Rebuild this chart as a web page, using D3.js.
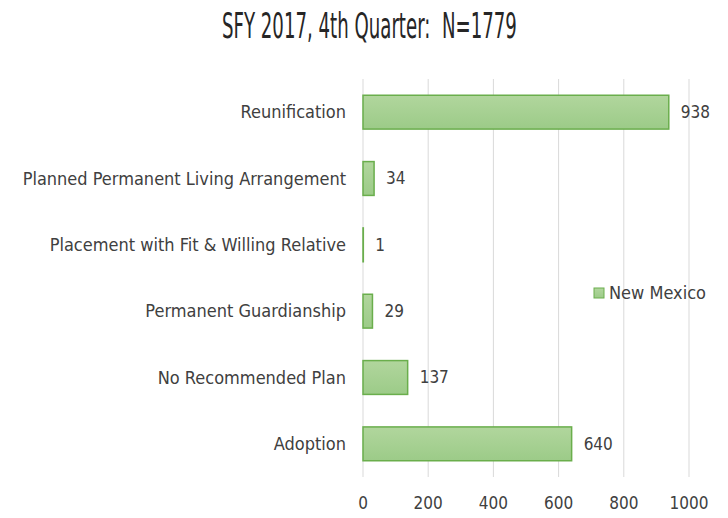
<!DOCTYPE html>
<html>
<head>
<meta charset="utf-8">
<script src="https://cdn.jsdelivr.net/npm/d3@7"></script>
<style>
  body { margin: 0; background: #fff; }
  svg { display: block; }
</style>
</head>
<body>
<div id="chart"></div>
<script>
const categories = ["Reunification", "Planned Permanent Living Arrangement", "Placement with Fit & Willing Relative",
  "Permanent Guardianship", "No Recommended Plan", "Adoption"]
const values = [938, 34, 1, 29, 137, 640]
const xTicks = [0, 200, 400, 600, 800, 1000]
const seriesName = "New Mexico"
const title = "SFY 2017, 4th Quarter:  N=1779"

const width = 728, height = 518
const margin = { top: 79, right: 39, bottom: 41, left: 363 }
const font = "'DejaVu Sans Condensed', 'Liberation Sans Narrow', sans-serif"

let svg = d3.select("#chart").append("svg")
    .attr("width", width)
    .attr("height", height)

let defs = svg.append("defs")
let grad = defs.append("linearGradient").attr("id", "barGrad")
    .attr("x1", 0).attr("y1", 0).attr("x2", 0).attr("y2", 1)
grad.append("stop").attr("offset", "0%").attr("stop-color", "#b1d69d")
grad.append("stop").attr("offset", "100%").attr("stop-color", "#9ccb88")

let x = d3.scaleLinear().domain([0, 1000]).range([margin.left, width - margin.right])
let y = d3.scaleBand().domain(categories).range([margin.top, height - margin.bottom])
    .paddingInner(0.49).paddingOuter(0.245)

// gridlines
svg.append("g")
    .selectAll("line")
    .data(xTicks)
    .join("line")
    .attr("x1", d => x(d)).attr("x2", d => x(d))
    .attr("y1", margin.top).attr("y2", height - margin.bottom)
    .attr("stroke", "#d9d9d9")
    .attr("stroke-width", 1)

// tick labels
svg.append("g")
    .selectAll("text")
    .data(xTicks)
    .join("text")
    .attr("x", d => x(d))
    .attr("y", 509)
    .attr("text-anchor", "middle")
    .attr("font-family", font)
    .attr("font-size", 17)
    .attr("fill", "#404040")
    .text(d => d)

// bars
svg.append("g")
    .selectAll("rect")
    .data(values)
    .join("rect")
    .attr("x", x(0))
    .attr("y", (d, i) => y(categories[i]))
    .attr("width", d => x(d) - x(0))
    .attr("height", y.bandwidth())
    .attr("fill", "url(#barGrad)")
    .attr("stroke", "#6aae4c")
    .attr("stroke-width", 1.5)

// value labels
svg.append("g")
    .selectAll("text")
    .data(values)
    .join("text")
    .attr("x", d => x(d) + 12)
    .attr("y", (d, i) => y(categories[i]) + y.bandwidth() / 2)
    .attr("dy", "0.35em")
    .attr("font-family", font)
    .attr("font-size", 17)
    .attr("fill", "#404040")
    .text(d => d)

// category labels
svg.append("g")
    .selectAll("text")
    .data(categories)
    .join("text")
    .attr("x", 346)
    .attr("y", d => y(d) + y.bandwidth() / 2)
    .attr("dy", "0.35em")
    .attr("text-anchor", "end")
    .attr("font-family", font)
    .attr("font-size", 18)
    .attr("fill", "#404040")
    .text(d => d)

// legend
let legend = svg.append("g").attr("transform", "translate(594,288)")
legend.append("rect")
    .attr("width", 10).attr("height", 10)
    .attr("fill", "url(#barGrad)")
    .attr("stroke", "#6aae4c")
legend.append("text")
    .attr("x", 15).attr("y", 5)
    .attr("dy", "0.35em")
    .attr("font-family", font)
    .attr("font-size", 18)
    .attr("fill", "#404040")
    .text(seriesName)

// title: squeeze horizontally to mimic the narrow display face
let titleText = svg.append("text")
    .attr("x", 0)
    .attr("y", 0)
    .attr("font-family", font)
    .attr("font-size", 36)
    .attr("fill", "#262626")
    .attr("xml:space", "preserve")
    .style("white-space", "pre")
    .text(title)
let tw = titleText.node().getComputedTextLength()
let sx = 295 / tw
titleText.attr("transform", `translate(222,38) scale(${sx},1)`)
</script>
</body>
</html>
